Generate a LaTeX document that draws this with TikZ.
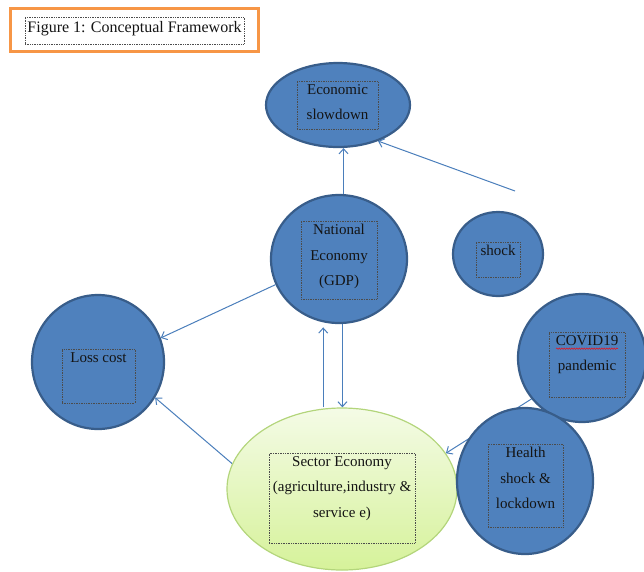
\documentclass[tikz,border=0pt]{standalone}
\usepackage{fontspec}
\setmainfont{Liberation Serif}
\usetikzlibrary{shapes.geometric,arrows.meta,backgrounds,decorations.pathmorphing}
\definecolor{bubblefill}{HTML}{4F81BD}
\definecolor{bubbleline}{HTML}{385D8A}
\definecolor{flowcol}{HTML}{4A7EBB}
\definecolor{framecol}{HTML}{F79646}
\definecolor{sectortop}{HTML}{F4FBE6}
\definecolor{sectorbot}{HTML}{D6F29A}
\definecolor{sectorline}{HTML}{B3D57B}
\definecolor{textcol}{HTML}{141414}
\tikzset{
  bubble/.style={ellipse, draw=bubbleline, line width=2.2pt, fill=bubblefill, inner sep=0pt},
  tbox/.style={draw=gray!60!black, densely dotted, line width=0.7pt, inner sep=0pt},
  txt/.style={font=\fontsize{15}{25.5}\selectfont, align=center, inner sep=3.5pt, anchor=north, text=textcol},
  flow/.style={draw=flowcol, line width=1pt, -{Straight Barb[length=5pt,width=9pt]}}
}
\begin{document}
\begin{tikzpicture}[x=1pt,y=-1pt]
    \useasboundingbox (0,0) rectangle (644,571);
    % title
    \node[draw=framecol, line width=3pt, minimum width=248pt, minimum height=43pt, inner sep=0pt] (frame) at (134,29.5) {};
    \node[tbox, minimum width=219pt, minimum height=27pt] (titleT) at (134.5,30.5) {};
    \node[txt, font=\fontsize{16}{20}\selectfont, inner sep=5pt] (title) at (titleT.north) {Figure 1: Conceptual Framework};
    % bubbles
    \node[bubble, minimum width=144pt, minimum height=84pt] (econ) at (338,105) {};
    \node[bubble, minimum width=136pt, minimum height=128pt] (nat) at (339,259) {};
    \node[bubble, minimum width=90pt, minimum height=84pt] (shock) at (498,254) {};
    \node[bubble, minimum width=132pt, minimum height=134pt] (loss) at (98,362) {};
    \node[ellipse, draw=sectorline, line width=1.2pt, top color=sectortop, bottom color=sectorbot, minimum width=230pt, minimum height=162pt] (sector) at (342,489) {};
    \node[bubble, minimum width=128pt, minimum height=128pt] (covid) at (582,358) {};
    \node[bubble, minimum width=136pt, minimum height=146pt] (health) at (525,481) {};
    % text boxes
    \node[tbox, minimum width=81pt, minimum height=48pt] (econT) at (337.5,105) {};
    \node[tbox, minimum width=76pt, minimum height=78pt] (natT) at (339,260) {};
    \node[tbox, minimum width=44pt, minimum height=35pt] (shockT) at (498,259.5) {};
    \node[tbox, minimum width=73pt, minimum height=54pt] (lossT) at (98.5,376) {};
    \node[tbox, minimum width=146pt, minimum height=90pt] (sectorT) at (342,498) {};
    \node[tbox, minimum width=76pt, minimum height=65pt] (covidT) at (587,364.5) {};
    \node[tbox, minimum width=75pt, minimum height=83pt] (healthT) at (525.5,485.5) {};
    \node[txt] (econL) at (econT.north) {Economic\\slowdown};
    \node[txt] (natL) at (natT.north) {National\\Economy\\(GDP)};
    \node[txt] (shockL) at (shockT.north) {shock};
    \node[txt] (lossL) at (lossT.north) {Loss cost};
    \node[txt] (sectorL) at (sectorT.north) {Sector Economy\\(agriculture,industry \&\\service e)};
    \node[txt] (covidL) at (covidT.north) {COVID19\\pandemic};
    \node[txt] (healthL) at (healthT.north) {Health\\shock \&\\lockdown};
    \draw[red, line width=0.4pt, decorate, decoration={snake,amplitude=0.8pt,segment length=2.5pt}]
        ([xshift=-31pt,yshift=-17pt]covidT.north) -- ([xshift=31pt,yshift=-17pt]covidT.north);
    % arrows
    \coordinate (cue) at (515,191);
    \begin{pgfonlayer}{background}
    \draw[flow] (nat.86) -- (econ.south -| nat.86);
    \draw[flow] (cue) -- (econ.318);
    \draw[flow] (nat.202) -- (loss.21);
    \draw[flow] (sector.167) -- (loss.328);
    \draw[flow] (sector.north -| nat.256) -- ([yshift=-5pt]nat.256);
    \draw[flow] (nat.273) -- (sector.north -| nat.273);
    \draw[flow] (covid.219) -- (sector.19);
    \end{pgfonlayer}
\end{tikzpicture}
\end{document}
